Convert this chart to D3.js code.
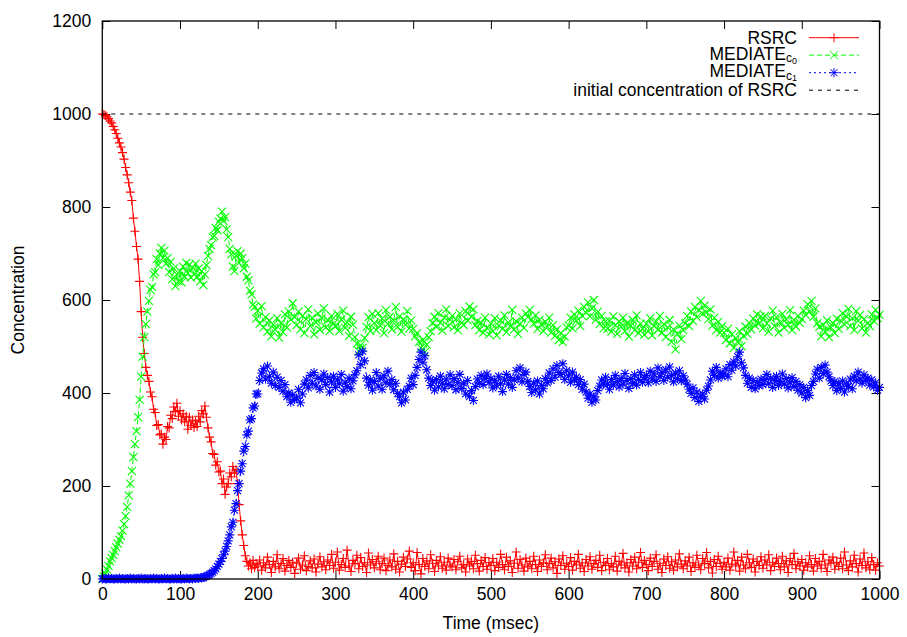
<!DOCTYPE html>
<html>
<head>
<meta charset="utf-8">
<script src="https://cdn.jsdelivr.net/npm/d3@7"></script>
<style>
  body { margin: 0; background: #fff; }
  text { font-family: "Liberation Sans", Arial, Helvetica, sans-serif; fill: #000; }
</style>
</head>
<body>
<svg id="chart" width="907" height="637"></svg>
<script>
// Sampling grid: 2 ms steps while the system is settling, 2.5 ms afterwards.
const timesEarly = d3.range(0, 200, 2);
const timesLate = d3.range(200, 1001, 2.5);
const times = timesEarly.concat(timesLate);

const xTicks = [0, 100, 200, 300, 400, 500, 600, 700, 800, 900, 1000];
const yTicks = [0, 200, 400, 600, 800, 1000, 1200];
const initialConcentration = 1000;

// RSRC, 0-198 ms
const rsrcEarly = [
  1000, 999, 997, 994, 990, 985, 981, 973, 966, 958,
  948, 938, 929, 917, 903, 885, 869, 852, 832, 814,
  776, 748, 715, 688, 640, 575, 520, 485, 455, 438,
  425, 402, 392, 365, 358, 330, 332, 310, 312, 290,
  305, 300, 328, 325, 352, 345, 370, 360, 378, 350,
  362, 342, 355, 338, 350, 322, 348, 330, 342, 326,
  340, 328, 350, 338, 362, 355, 372, 348, 325, 305,
  295, 270, 268, 245, 252, 230, 232, 205, 215, 182,
  198, 205, 228, 220, 242, 228, 235, 205, 160, 125,
  95, 72, 50, 38, 28, 35, 22, 40, 25, 33
];
// RSRC, 200-1000 ms
const rsrcLate = [
  28, 41, 19, 35, 24, 47, 31, 14, 38, 26, 52, 22, 33, 44, 17, 29, 40, 25, 36, 12,
  34, 45, 21, 30, 50, 18, 27, 39, 24, 43, 15, 32, 48, 26, 37, 20, 41, 29, 53, 23,
  36, 58, 19, 31, 44, 25, 62, 28, 16, 40, 33, 51, 22, 46, 27, 35, 14, 56, 30, 42,
  24, 37, 49, 20, 33, 45, 18, 29, 41, 26, 54, 21, 38, 15, 32, 47, 27, 43, 60, 25,
  35, 18, 57, 31, 11, 44, 27, 39, 22, 52, 34, 16, 40, 28, 48, 23, 36, 19, 45, 30,
  26, 42, 20, 37, 49, 24, 31, 15, 43, 28, 38, 22, 51, 33, 17, 40, 27, 46, 21, 35,
  29, 44, 18, 36, 25, 53, 31, 20, 47, 27, 39, 14, 34, 58, 23, 42, 30, 17, 45, 26,
  38, 22, 49, 31, 16, 41, 27, 35, 52, 20, 33, 45, 24, 37, 12, 43, 29, 50, 21, 34,
  27, 46, 19, 38, 30, 53, 23, 35, 16, 42, 28, 48, 21, 33, 40, 25, 51, 18, 36, 29,
  44, 20, 33, 26, 49, 17, 38, 30, 55, 24, 35, 15, 42, 28, 47, 22, 36, 57, 25, 40,
  31, 18, 45, 27, 38, 52, 21, 34, 14, 43, 29, 48, 23, 37, 19, 41, 26, 54, 32, 22,
  39, 28, 47, 16, 35, 25, 51, 30, 20, 44, 33, 57, 24, 38, 13, 42, 27, 49, 34, 21,
  36, 26, 45, 19, 32, 58, 28, 40, 17, 47, 30, 22, 53, 35, 25, 43, 15, 38, 29, 48,
  23, 41, 30, 52, 18, 36, 27, 45, 33, 20, 49, 26, 39, 14, 44, 31, 55, 22, 37, 28,
  42, 19, 35, 26, 50, 31, 17, 44, 28, 38, 23, 53, 30, 16, 41, 34, 47, 21, 36, 27,
  45, 22, 58, 30, 18, 39, 26, 51, 33, 15, 43, 29, 56, 24, 37, 20, 46, 31, 19, 35,
  28
];

// MEDIATE c0, 0-198 ms
const mediateC0Early = [
  0, 5, 12, 20, 28, 38, 45, 52, 60, 68,
  76, 84, 92, 104, 118, 135, 155, 180, 205, 232,
  262, 290, 318, 348, 385, 435, 478, 520, 548, 575,
  598, 622, 628, 655, 660, 688, 675, 700, 712, 690,
  706, 678, 690, 660, 682, 645, 668, 630, 655, 640,
  662, 638, 672, 650, 680, 658, 676, 648, 670, 655,
  678, 650, 668, 640, 662, 632, 655, 675, 695, 710,
  718, 735, 738, 755, 750, 768, 775, 790, 770, 778,
  752, 735, 710, 698, 672, 662, 695, 705, 680, 700,
  690, 668, 678, 650, 642, 620, 612, 590, 585, 560
];
// MEDIATE c0, 200-1000 ms
const mediateC0Late = [
  577, 549, 587, 541, 563, 532, 556, 522, 547, 536, 561, 519, 550, 531, 569, 541, 575, 558, 593, 563,
  546, 575, 537, 566, 529, 559, 580, 544, 562, 526, 552, 571, 536, 561, 582, 541, 557, 533, 566, 549,
  543, 570, 533, 558, 577, 540, 552, 523, 564, 547, 520, 506, 490, 503, 497, 518, 542, 563, 533, 570,
  551, 535, 572, 545, 560, 529, 578, 548, 564, 537, 556, 585, 542, 565, 532, 559, 547, 576, 539, 556,
  538, 522, 529, 510, 497, 514, 488, 504, 520, 533, 550, 564, 542, 572, 551, 534, 562, 580, 544, 558,
  566, 541, 559, 535, 571, 551, 546, 576, 556, 586, 564, 580, 546, 555, 535, 551, 530, 562, 540, 526,
  549, 533, 561, 524, 545, 556, 538, 567, 531, 552, 544, 579, 537, 554, 527, 548, 562, 540, 571, 563,
  579, 559, 549, 567, 538, 558, 548, 533, 553, 542, 562, 530, 546, 523, 537, 514, 529, 510, 521, 541,
  545, 562, 539, 569, 555, 577, 544, 566, 585, 573, 595, 565, 582, 600, 558, 575, 548, 566, 539, 554,
  538, 555, 532, 565, 546, 527, 554, 542, 562, 533, 550, 521, 545, 557, 535, 567, 529, 549, 539, 525,
  549, 533, 561, 524, 544, 554, 536, 566, 530, 548, 520, 541, 557, 510, 537, 494, 527, 545, 516, 535,
  550, 566, 544, 575, 555, 585, 563, 579, 598, 570, 588, 574, 559, 580, 545, 562, 535, 553, 530, 544,
  530, 514, 538, 507, 526, 497, 518, 510, 533, 501, 523, 543, 527, 551, 537, 560, 545, 569, 550, 565,
  539, 566, 549, 532, 560, 577, 544, 563, 530, 552, 570, 540, 559, 547, 578, 535, 557, 543, 566, 551,
  559, 577, 568, 591, 575, 598, 564, 582, 550, 542, 522, 546, 532, 556, 520, 541, 550, 529, 560, 538,
  556, 572, 547, 564, 581, 544, 561, 535, 576, 555, 568, 539, 559, 530, 551, 544, 569, 555, 579, 561,
  568
];

// MEDIATE c1, 0-198 ms
const mediateC1Early = [
  0, 1, 0, 0, 2, 0, 1, 0, 0, 1,
  0, 2, 0, 1, 0, 0, 1, 0, 2, 0,
  1, 0, 0, 1, 0, 2, 0, 0, 1, 0,
  0, 1, 0, 2, 0, 1, 0, 0, 1, 0,
  2, 0, 1, 0, 0, 1, 0, 2, 0, 1,
  0, 0, 1, 0, 2, 1, 0, 1, 0, 2,
  1, 2, 1, 3, 2, 3, 5, 6, 8, 10,
  12, 15, 18, 22, 27, 32, 38, 44, 52, 60,
  70, 82, 95, 112, 122, 148, 162, 190, 205, 232,
  248, 275, 285, 310, 318, 342, 345, 368, 372, 398
];
// MEDIATE c1, 200-1000 ms
const mediateC1Late = [
  398, 427, 443, 452, 430, 458, 435, 421, 445, 416, 434, 412, 427, 404, 418, 392, 400, 380, 396, 386,
  389, 408, 379, 398, 419, 428, 411, 438, 421, 444, 415, 432, 408, 429, 441, 418, 433, 402, 424, 436,
  412, 428, 420, 440, 404, 423, 414, 432, 409, 426, 439, 448, 482, 461, 490, 469, 432, 417, 428, 406,
  425, 444, 415, 432, 408, 437, 423, 447, 419, 429, 407, 421, 399, 392, 379, 402, 385, 408, 415, 432,
  418, 438, 455, 472, 488, 466, 480, 450, 432, 416, 426, 406, 429, 413, 436, 421, 409, 430, 418, 439,
  416, 431, 407, 423, 440, 410, 421, 398, 427, 392, 405, 384, 414, 430, 421, 438, 418, 432, 441, 423,
  431, 411, 427, 416, 436, 420, 403, 428, 440, 419, 433, 412, 428, 448, 432, 454, 424, 440, 445, 425,
  414, 401, 421, 407, 426, 398, 416, 409, 431, 422, 443, 427, 452, 434, 459, 444, 440, 463, 429, 448,
  437, 423, 445, 428, 434, 418, 429, 408, 419, 402, 389, 398, 380, 392, 385, 405, 415, 428, 419, 434,
  419, 408, 429, 417, 438, 425, 413, 431, 419, 442, 427, 410, 431, 421, 439, 417, 429, 444, 423, 433,
  438, 422, 447, 430, 441, 425, 454, 435, 444, 427, 450, 434, 456, 438, 424, 443, 431, 448, 426, 437,
  428, 419, 408, 399, 411, 390, 402, 382, 393, 398, 387, 406, 415, 428, 447, 438, 455, 432, 443, 436,
  441, 452, 435, 461, 449, 467, 458, 478, 488, 465, 454, 438, 421, 432, 412, 427, 409, 423, 416, 430,
  418, 429, 440, 420, 432, 412, 427, 436, 416, 425, 441, 419, 431, 411, 423, 433, 414, 425, 406, 418,
  400, 412, 390, 405, 395, 416, 425, 441, 451, 432, 455, 442, 460, 445, 435, 426, 416, 425, 405, 420,
  410, 426, 402, 419, 414, 430, 409, 436, 426, 445, 430, 421, 439, 427, 432, 417, 428, 413, 422, 406,
  412
];

const rsrc = rsrcEarly.concat(rsrcLate);
const mediateC0 = mediateC0Early.concat(mediateC0Late);
const mediateC1 = mediateC1Early.concat(mediateC1Late);

const svg = d3.select("#chart");

const x = d3.scaleLinear().domain([0, 1000]).range([102.3, 879.5]);
const y = d3.scaleLinear().domain([0, 1200]).range([579, 21]);

const [plotLeft, plotRight] = x.range();
const [plotBottom, plotTop] = y.range();

// Axes with inward ticks, mirrored on the top and right edges
const fontSize = "17.5px";
svg.append("g")
  .attr("transform", `translate(0,${plotBottom})`)
  .call(d3.axisBottom(x).tickValues(xTicks).tickSize(-8).tickPadding(9).tickFormat(d3.format("d")));
svg.append("g")
  .attr("transform", `translate(${plotLeft},0)`)
  .call(d3.axisLeft(y).tickValues(yTicks).tickSize(-8).tickPadding(11).tickFormat(d3.format("d")));
svg.append("g")
  .attr("transform", `translate(0,${plotTop})`)
  .call(d3.axisTop(x).tickValues(xTicks).tickSize(-8).tickFormat(""));
svg.append("g")
  .attr("transform", `translate(${plotRight},0)`)
  .call(d3.axisRight(y).tickValues(yTicks).tickSize(-8).tickFormat(""));

svg.selectAll(".domain").remove();
svg.selectAll(".tick line").attr("stroke", "#000").attr("stroke-width", 1);
svg.selectAll(".tick text")
  .style("font-family", '"Liberation Sans", Arial, sans-serif')
  .style("font-size", fontSize)
  .attr("fill", "#000");

// Axis titles
svg.append("text")
  .attr("x", (plotLeft + plotRight) / 2)
  .attr("y", 629)
  .attr("text-anchor", "middle")
  .style("font-size", fontSize)
  .text("Time (msec)");
svg.append("text")
  .attr("transform", `translate(24,${(plotTop + plotBottom) / 2}) rotate(-90)`)
  .attr("text-anchor", "middle")
  .style("font-size", fontSize)
  .text("Concentration");

// Point symbols
const symbolPaths = {
  plus: "M-4.5,0H4.5M0,-4.5V4.5",
  cross: "M-4,-4L4,4M-4,4L4,-4",
  star: "M-4.5,0H4.5M0,-4.5V4.5M-3.5,-3.5L3.5,3.5M-3.5,3.5L3.5,-3.5"
};

const series = [
  { key: "rsrc", values: rsrc, color: "#ff0000", dash: null, symbol: "plus" },
  { key: "c0", values: mediateC0, color: "#00ff00", dash: "5,3", symbol: "cross" },
  { key: "c1", values: mediateC1, color: "#0000ff", dash: "2,3", symbol: "star" }
];

const line = d3.line()
  .x(d => x(d.t))
  .y(d => y(d.v));

series.forEach(s => {
  const pts = times.map((t, i) => ({ t, v: s.values[i] }));
  const g = svg.append("g").attr("class", "series-" + s.key);
  g.append("path")
    .datum(pts)
    .attr("d", line)
    .attr("fill", "none")
    .attr("stroke", s.color)
    .attr("stroke-width", 1)
    .attr("stroke-dasharray", s.dash);
  g.selectAll("path.pt")
    .data(pts)
    .join("path")
    .attr("class", "pt")
    .attr("d", symbolPaths[s.symbol])
    .attr("transform", d => `translate(${x(d.t)},${y(d.v)})`)
    .attr("fill", "none")
    .attr("stroke", s.color)
    .attr("stroke-width", 1.1);
});

// Reference level: initial concentration of RSRC
svg.append("line")
  .attr("x1", plotLeft).attr("x2", plotRight)
  .attr("y1", y(initialConcentration)).attr("y2", y(initialConcentration))
  .attr("stroke", "#000")
  .attr("stroke-width", 1)
  .attr("stroke-dasharray", "4,5");

// Plot frame
svg.append("rect")
  .attr("x", plotLeft).attr("y", plotTop)
  .attr("width", plotRight - plotLeft).attr("height", plotBottom - plotTop)
  .attr("fill", "none")
  .attr("stroke", "#000")
  .attr("stroke-width", 1.3);

// Legend
const legendTextX = 797;
const sampleX1 = 809, sampleX2 = 859;
const legendRows = [
  { label: ["RSRC"], color: "#ff0000", dash: null, symbol: "plus", y: 37.7 },
  { label: ["MEDIATE", "c", "0"], color: "#00ff00", dash: "5,3", symbol: "cross", y: 55.2 },
  { label: ["MEDIATE", "c", "1"], color: "#0000ff", dash: "2,3", symbol: "star", y: 72.7 },
  { label: ["initial concentration of RSRC"], color: "#000", dash: "4,5", symbol: null, y: 90.2 }
];

const legend = svg.append("g").attr("class", "legend");
legendRows.forEach(r => {
  const t = legend.append("text")
    .attr("x", legendTextX)
    .attr("y", r.y + (r.label.length > 1 ? 4.5 : 6))
    .attr("text-anchor", "end")
    .style("font-size", fontSize);
  t.append("tspan").text(r.label[0]);
  if (r.label.length > 1) {
    t.append("tspan").attr("dy", 2.5).style("font-size", "12px").text(r.label[1]);
    t.append("tspan").attr("dy", 1.5).style("font-size", "9px").text(r.label[2]);
  }
  legend.append("line")
    .attr("x1", sampleX1).attr("x2", sampleX2)
    .attr("y1", r.y).attr("y2", r.y)
    .attr("stroke", r.color)
    .attr("stroke-width", 1)
    .attr("stroke-dasharray", r.dash);
  if (r.symbol) {
    legend.append("path")
      .attr("d", symbolPaths[r.symbol])
      .attr("transform", `translate(${(sampleX1 + sampleX2) / 2},${r.y})`)
      .attr("fill", "none")
      .attr("stroke", r.color)
      .attr("stroke-width", 1);
  }
});
</script>
</body>
</html>
